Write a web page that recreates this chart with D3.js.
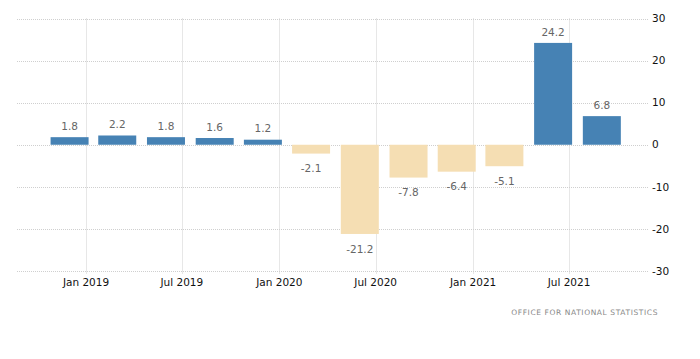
<!DOCTYPE html>
<html>
<head>
<meta charset="utf-8">
<script src="https://cdn.jsdelivr.net/npm/d3@7"></script>
<style>
    body { margin: 0; background: #fff; }
    svg { display: block; }
</style>
</head>
<body>
<div id="chart"></div>
<script>
// quarterly GDP growth, plotted at the last month of each quarter
var periods = ["2018-12", "2019-03", "2019-06", "2019-09", "2019-12", "2020-03",
               "2020-06", "2020-09", "2020-12", "2021-03", "2021-06", "2021-09"];
var values = [1.8, 2.2, 1.8, 1.6, 1.2, -2.1, -21.2, -7.8, -6.4, -5.1, 24.2, 6.8];
var xTickLabels = ["Jan 2019", "Jul 2019", "Jan 2020", "Jul 2020", "Jan 2021", "Jul 2021"];
var yTicks = [30, 20, 10, 0, -10, -20, -30];
var source = "OFFICE FOR NATIONAL STATISTICS";

var width = 700, height = 359;
var plotLeft = 17, plotRight = 649, plotTop = 18.5, plotBottom = 271;

var parseMonth = d3.timeParse("%Y-%m");
var parseTick = d3.timeParse("%b %Y");

var x = d3.scaleTime()
    .domain([parseTick("Jan 2019"), parseTick("Jul 2021")])
    .range([86, 569]);

var y = d3.scaleLinear()
    .domain([-30, 30])
    .range([plotBottom, plotTop]);

var svg = d3.select("#chart")
    .append("svg")
    .attr("width", width)
    .attr("height", height);

// horizontal grid
svg.selectAll("line.hgrid")
    .data(yTicks)
    .enter()
    .append("line")
    .attr("class", "hgrid")
    .attr("x1", plotLeft)
    .attr("x2", plotRight)
    .attr("y1", function(d) { return Math.round(y(d)) + 0.5; })
    .attr("y2", function(d) { return Math.round(y(d)) + 0.5; })
    .attr("stroke", "#cfcfcf")
    .attr("stroke-dasharray", "1,1");

// vertical grid
svg.selectAll("line.vgrid")
    .data(xTickLabels)
    .enter()
    .append("line")
    .attr("class", "vgrid")
    .attr("x1", function(d) { return Math.round(x(parseTick(d))) + 0.5; })
    .attr("x2", function(d) { return Math.round(x(parseTick(d))) + 0.5; })
    .attr("y1", plotTop)
    .attr("y2", plotBottom + 3)
    .attr("stroke", "#cfcfcf")
    .attr("stroke-dasharray", "1,1");

var barWidth = 38;

svg.selectAll("rect.bar")
    .data(values)
    .enter()
    .append("rect")
    .attr("class", "bar")
    .attr("x", function(d, i) { return x(parseMonth(periods[i])) - barWidth / 2; })
    .attr("y", function(d) { return y(Math.max(0, d)); })
    .attr("width", barWidth)
    .attr("height", function(d) { return Math.abs(y(d) - y(0)); })
    .attr("fill", function(d) { return d >= 0 ? "#4682b4" : "#f5deb3"; });

// value labels
svg.selectAll("text.val")
    .data(values)
    .enter()
    .append("text")
    .attr("class", "val")
    .attr("x", function(d, i) { return x(parseMonth(periods[i])); })
    .attr("y", function(d) { return d >= 0 ? y(d) - 11 : y(d) + 15; })
    .attr("dy", ".35em")
    .attr("text-anchor", "middle")
    .attr("font-family", "DejaVu Sans, sans-serif")
    .attr("font-size", "10.5px")
    .attr("fill", "#666")
    .text(function(d) { return d.toFixed(1); });

// x axis labels
svg.selectAll("text.xlab")
    .data(xTickLabels)
    .enter()
    .append("text")
    .attr("class", "xlab")
    .attr("x", function(d) { return x(parseTick(d)); })
    .attr("y", 282)
    .attr("dy", ".35em")
    .attr("text-anchor", "middle")
    .attr("font-family", "DejaVu Sans, sans-serif")
    .attr("font-size", "10.5px")
    .attr("fill", "#111")
    .text(function(d) { return d; });

// y axis labels (right side)
svg.selectAll("text.ylab")
    .data(yTicks)
    .enter()
    .append("text")
    .attr("class", "ylab")
    .attr("x", 652)
    .attr("y", function(d) { return y(d); })
    .attr("dy", ".35em")
    .attr("font-family", "DejaVu Sans, sans-serif")
    .attr("font-size", "10.5px")
    .attr("fill", "#111")
    .text(function(d) { return d; });

svg.append("text")
    .attr("x", 658)
    .attr("y", 312)
    .attr("dy", ".35em")
    .attr("text-anchor", "end")
    .attr("font-family", "DejaVu Sans, sans-serif")
    .attr("font-size", "7.5px")
    .attr("letter-spacing", "0.6px")
    .attr("fill", "#888")
    .text(source);
</script>
</body>
</html>
